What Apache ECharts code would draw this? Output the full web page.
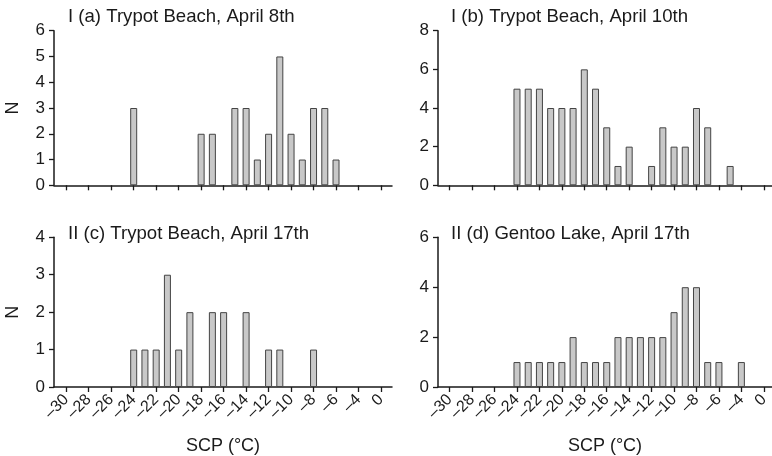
<!DOCTYPE html>
<html>
<head>
<meta charset="utf-8">
<script src="https://cdn.jsdelivr.net/npm/echarts@6/dist/echarts.min.js"></script>
<style>
html,body{margin:0;padding:0;background:#fff;}
#chart{width:772px;height:456px;}
</style>
</head>
<body>
<div id="chart"></div>
<script>
// ---- Data ----
const titles = [
  'I (a) Trypot Beach, April 8th',
  'I (b) Trypot Beach, April 10th',
  'II (c) Trypot Beach, April 17th',
  'II (d) Gentoo Lake, April 17th'
];
const tempsA = [-24,-18,-17,-15,-14,-13,-12,-11,-10,-9,-8,-7,-6];
const countsA = [3,2,2,3,3,1,2,5,2,1,3,3,1];
const tempsB = [-24,-23,-22,-21,-20,-19,-18,-17,-16,-15,-14,-12,-11,-10,-9,-8,-7,-5];
const countsB = [5,5,5,4,4,4,6,5,3,1,2,1,3,2,2,4,3,1];
const tempsC = [-24,-23,-22,-21,-20,-19,-17,-16,-14,-12,-11,-8];
const countsC = [1,1,1,3,1,2,2,2,2,1,1,1];
const tempsD = [-24,-23,-22,-21,-20,-19,-18,-17,-16,-15,-14,-13,-12,-11,-10,-9,-8,-7,-6,-4];
const countsD = [1,1,1,1,1,2,1,1,1,2,2,2,2,2,3,4,4,1,1,1];
const xTickValues = [-30,-28,-26,-24,-22,-20,-18,-16,-14,-12,-10,-8,-6,-4,-2];
const xTickLabels = ['\u201330','\u201328','\u201326','\u201324','\u201322','\u201320','\u201318','\u201316','\u201314','\u201312','\u201310','\u20138','\u20136','\u20134','0'];
const yMax = [6, 8, 4, 6];
const yInterval = [1, 2, 1, 2];

// ---- Layout ----
const FONT = 'Liberation Sans, Arial, Helvetica, sans-serif';
const AX = '#1a1a1a';
const grids = [
  {left: 54, top: 30.7, width: 338, height: 154.6},
  {left: 438, top: 30.7, width: 334, height: 154.6},
  {left: 54, top: 237.3, width: 338, height: 154.7},
  {left: 438, top: 237.3, width: 334, height: 154.7}
];
const xRanges = [[-31.09, -1.02], [-31.04, -1.27], [-31.09, -1.02], [-31.04, -1.27]];
const titlePos = [[68, 7], [451, 7], [68, 224], [451, 224]];
const series = [[tempsA, countsA], [tempsB, countsB], [tempsC, countsC], [tempsD, countsD]];

const option = {
  backgroundColor: '#fff',
  animation: false,
  title: titles.map((t, i) => ({
    text: t, left: titlePos[i][0], top: titlePos[i][1], padding: 0,
    textStyle: {fontFamily: FONT, fontSize: 18.6, fontWeight: 'normal', color: '#1a1a1a'}
  })),
  grid: grids,
  xAxis: grids.map((g, i) => ({
    type: 'value', gridIndex: i,
    min: xRanges[i][0], max: xRanges[i][1],
    axisLine: {show: true, onZero: false, lineStyle: {color: AX, width: 1.5}},
    axisTick: {show: true, length: 5, customValues: xTickValues, lineStyle: {color: AX, width: 1.3}},
    splitLine: {show: false},
    axisLabel: {
      show: i >= 2, customValues: xTickValues, rotate: 45, margin: 10,
      fontFamily: FONT, fontSize: 16, color: '#1a1a1a',
      formatter: v => { const k = xTickValues.indexOf(Math.round(v)); return k >= 0 ? xTickLabels[k] : ''; }
    },
    name: i >= 2 ? 'SCP (\u00B0C)' : '', nameLocation: 'middle', nameGap: 50,
    nameTextStyle: {fontFamily: FONT, fontSize: 18, color: '#1a1a1a'}
  })),
  yAxis: grids.map((g, i) => ({
    type: 'value', gridIndex: i, min: 0, max: yMax[i], interval: yInterval[i],
    axisLine: {show: true, lineStyle: {color: AX, width: 1.5}},
    axisTick: {show: true, length: 5, lineStyle: {color: AX, width: 1.3}},
    splitLine: {show: false},
    axisLabel: {fontFamily: FONT, fontSize: 17, color: '#1a1a1a', margin: 9},
    name: (i % 2 === 0) ? 'N' : '', nameLocation: 'middle', nameGap: 32, nameRotate: 90,
    nameTextStyle: {fontFamily: FONT, fontSize: 18, color: '#1a1a1a'}
  })),
  series: series.map((s, i) => ({
    type: 'bar', xAxisIndex: i, yAxisIndex: i,
    data: s[0].map((t, k) => [t, s[1][k]]),
    barWidth: 7,
    itemStyle: {color: '#c8c8c8', borderColor: '#444', borderWidth: 1}
  }))
};
const chart = echarts.init(document.getElementById('chart'), null, {renderer: 'canvas'});
chart.setOption(option);
</script>
</body>
</html>
